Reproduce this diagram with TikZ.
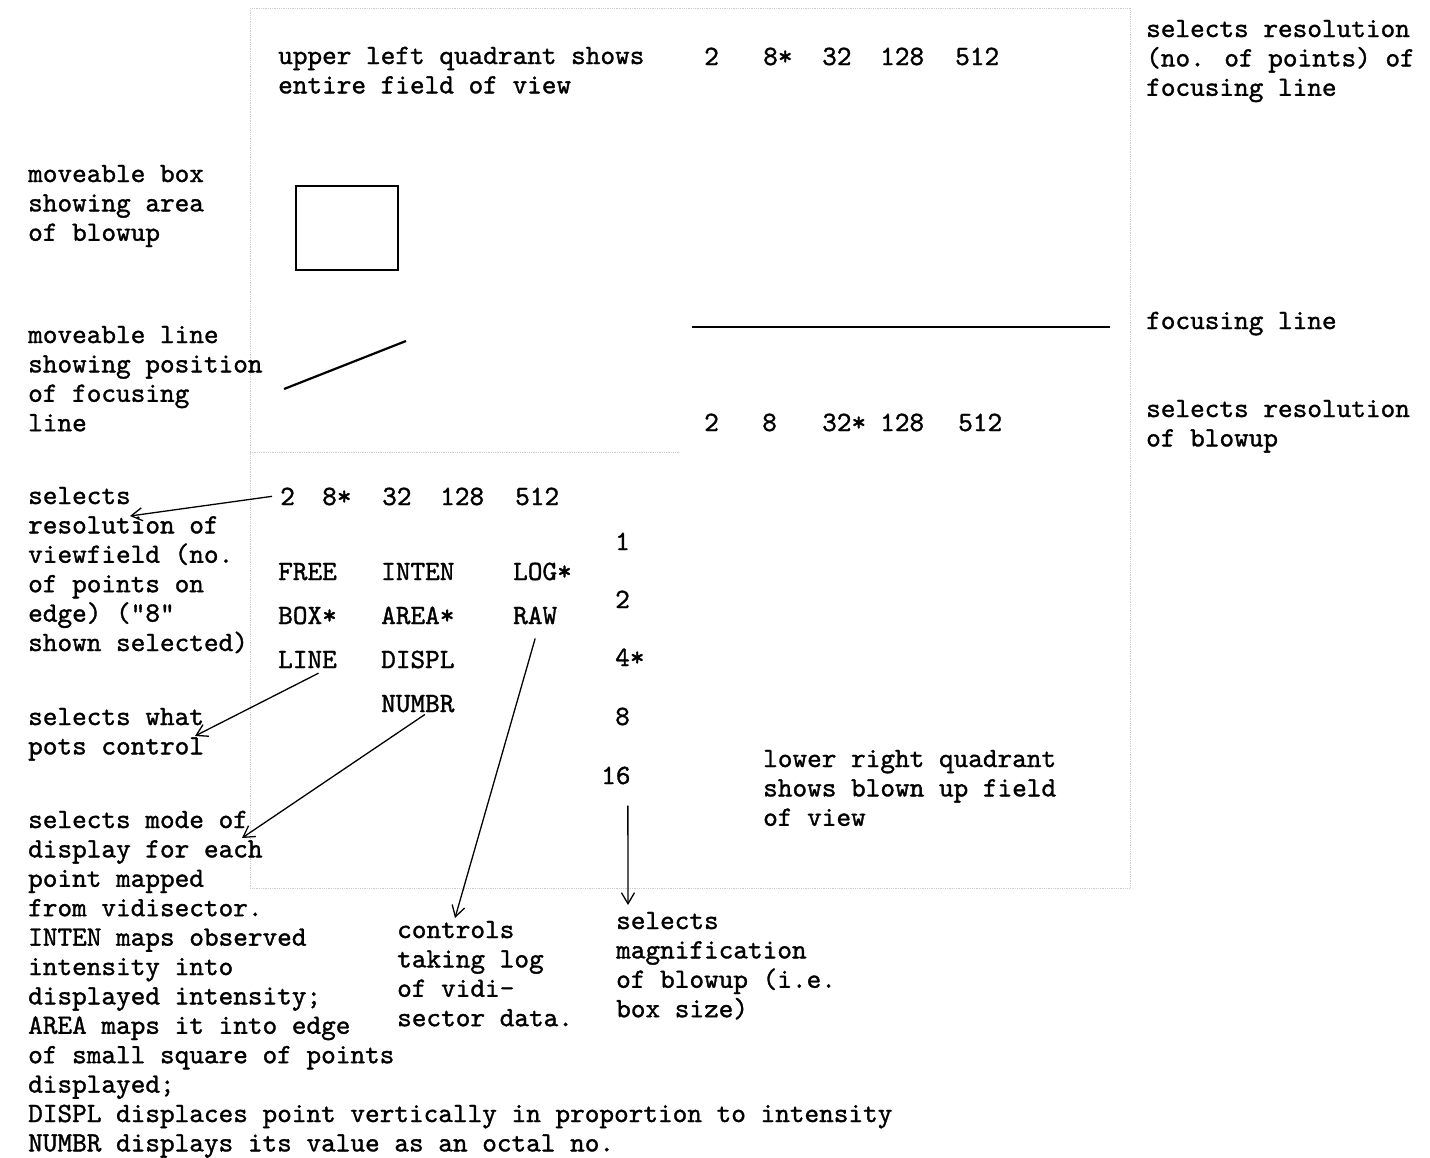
\documentclass[tikz,border=0pt]{standalone}
\usepackage{fontspec}
\newfontfamily\macchina{lmmono10-regular.otf}[FakeBold=1.2]
\usetikzlibrary{arrows.meta}

\tikzset{
  testo/.style={anchor=base west, inner sep=0pt, align=left,
    font=\macchina\fontsize{27.9}{29.4}\selectfont},
  freccia/.style={-{Straight Barb[length=11pt,width=13pt]}, line width=1.3pt},
  cornice/.style={gray!40, densely dotted, line width=0.8pt}
}

\begin{document}
\begin{tikzpicture}[x=1pt,y=-1pt]
      \useasboundingbox (0,0) rectangle (1430,1157);
      % Cornice dello schermo
      \draw[cornice] (250,8) rectangle (1130,888);
      \draw[cornice] (250,452) -- (680,452);

      % Quadrante in alto a sinistra (base = ultima riga)
      \node[testo] (ulq) at (278,64+29.4) {upper left quadrant shows\\entire field of view};
      \draw[line width=2pt] (296,186) rectangle (398,270);
      \draw[line width=2.2pt] (284,389) -- (406,341);

      % Risoluzione della linea di fuoco
      \foreach \v/\x [count=\i] in {2/704, 8*/763, 32/822, 128/880, 512/955}
        \node[testo] (fr\i) at (\x,65) {\v};
      \node[testo] (frtxt) at (1146,37+2*29.4) {selects resolution\\(no. of points) of\\focusing line};

      % Linea di fuoco
      \draw[line width=2.8pt] (692,327) -- (1110,327);
      \node[testo] (fltxt) at (1146,329) {focusing line};

      % Risoluzione dell'ingrandimento
      \foreach \v/\x [count=\i] in {2/704, 8/762, 32*/822, 128/880, 512/958}
        \node[testo] (br\i) at (\x,431) {\v};
      \node[testo] (brtxt) at (1146,417+29.4) {selects resolution\\of blowup};

      % Didascalie a sinistra
      \node[testo] (boxtxt) at (28,182+2*29.4) {moveable box\\showing area\\of blowup};
      \node[testo] (linetxt) at (28,343+3*29.4) {moveable line\\showing position\\of focusing\\line};
      \node[testo] (vftxt) at (28,504+5*29.4) {selects\\resolution of\\viewfield (no.\\of points on\\edge) ("8"\\shown selected)};
      \node[testo] (pottxt) at (28,725+29.4) {selects what\\pots control};
      \node[testo] (modetxt) at (28,828+11*29.4) {selects mode of\\display for each\\point mapped\\from vidisector.\\INTEN maps observed\\intensity into\\displayed intensity;\\AREA maps it into edge\\of small square of points\\displayed;\\DISPL displaces point vertically in proportion to intensity\\NUMBR displays its value as an octal no.};

      % Risoluzione del campo visivo
      \foreach \v/\x [count=\i] in {2/280, 8*/322, 32/382, 128/440, 512/515}
        \node[testo] (vr\i) at (\x,505) {\v};

      % Tasti di modo
      \node[testo] (mfree) at (278,580) {FREE};
      \node[testo] (mbox) at (278,624) {BOX*};
      \node[testo] (mline) at (278,668) {LINE};
      \node[testo] (minten) at (381,580) {INTEN};
      \node[testo] (marea) at (381,624) {AREA*};
      \node[testo] (mdispl) at (381,668) {DISPL};
      \node[testo] (mnumbr) at (381,712) {NUMBR};
      \node[testo] (mlog) at (513,580) {LOG*};
      \node[testo] (mraw) at (513,624) {RAW};

      % Ingrandimento
      \node[testo] (mg1) at (615,550) {1};
      \node[testo] (mg2) at (615,608) {2};
      \node[testo] (mg4) at (615,666) {4*};
      \node[testo] (mg8) at (615,725) {8};
      \node[testo] (mg16) at (601,784) {16};

      \node[testo] (logtxt) at (397,938+3*29.4) {controls\\taking log\\of vidi-\\sector data.};
      \node[testo] (magtxt) at (616,929+3*29.4) {selects\\magnification\\of blowup (i.e.\\box size)};
      \node[testo] (lrq) at (763,767+2*29.4) {lower right quadrant\\shows blown up field\\of view};

      % Frecce
      \coordinate (vfend) at (130,516);
      \coordinate (potend) at (195,736);
      \coordinate (modeend) at (242,838);
      \coordinate (logend) at (455,918);
      \coordinate (magend) at (628,905);
      \draw[freccia] ([xshift=-8pt]vr1.west) -- (vfend);
      \draw[freccia] ([xshift=11pt,yshift=-5pt]mline.south) -- (potend);
      \draw[freccia] ([xshift=7pt,yshift=-2pt]mnumbr.south) -- (modeend);
      \draw[freccia] ([yshift=-14pt]mraw.south) -- (logend);
      \draw[freccia] ([xshift=12pt,yshift=-21pt]mg16.south) -- (magend);
    \end{tikzpicture}
\end{document}
